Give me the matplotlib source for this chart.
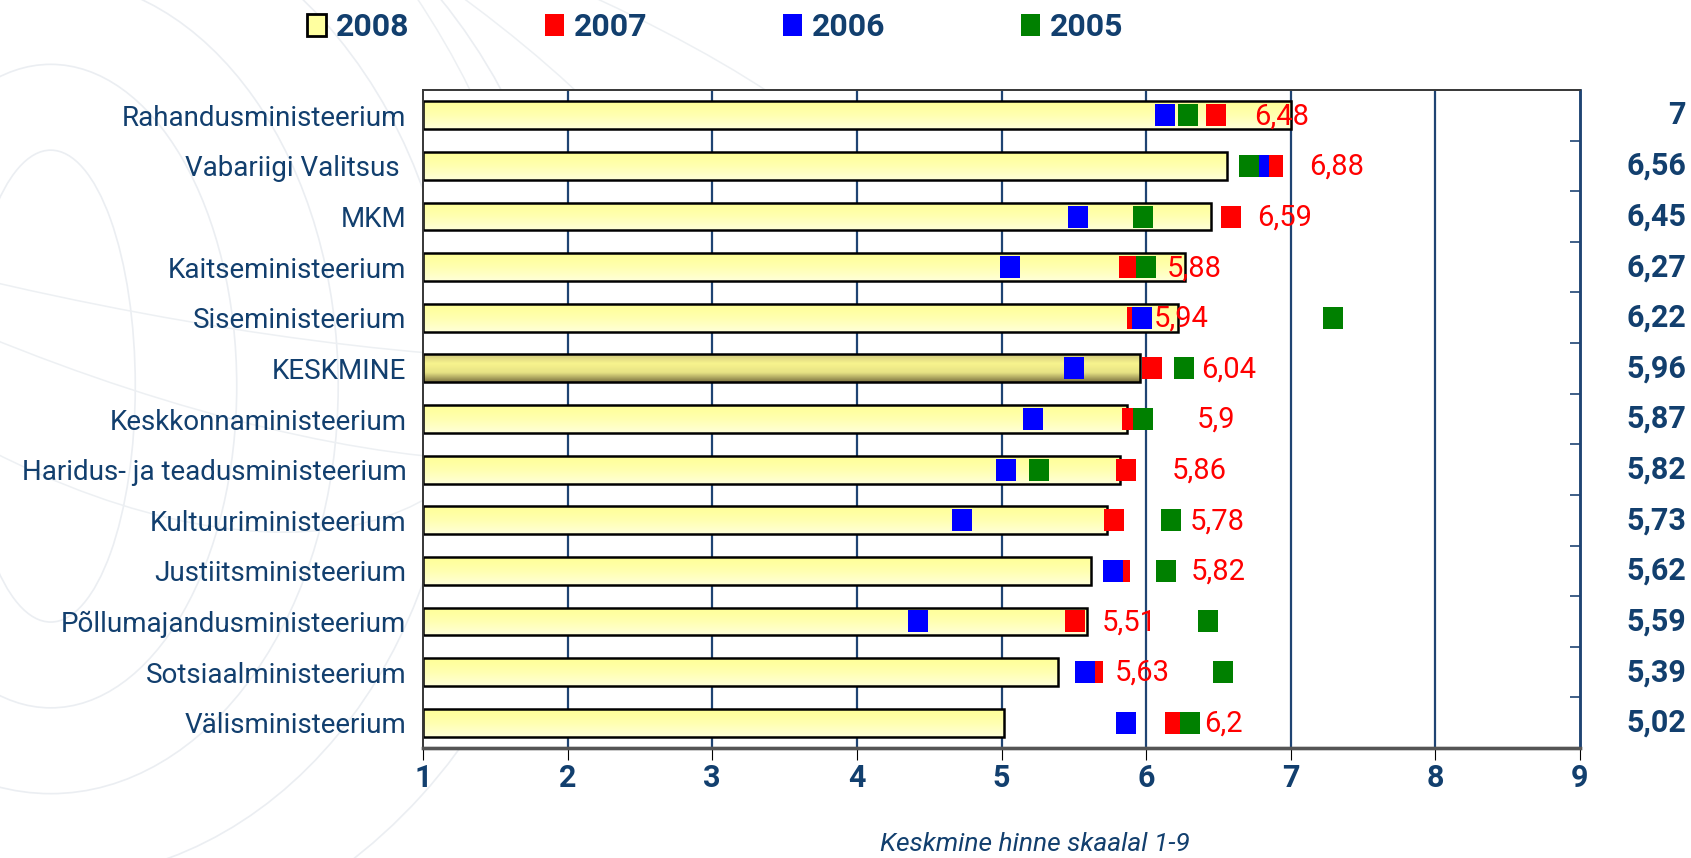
import numpy as np
import matplotlib
matplotlib.use("Agg")
import matplotlib.pyplot as plt
import matplotlib.transforms as mtransforms
from matplotlib.patches import Patch, Ellipse
from matplotlib.colors import LinearSegmentedColormap

plt.rcParams['font.family'] = ['Roboto', 'DejaVu Sans']

# ---- data ----
categories = ["Rahandusministeerium", "Vabariigi Valitsus ", "MKM",
              "Kaitseministeerium", "Siseministeerium", "KESKMINE",
              "Keskkonnaministeerium", "Haridus- ja teadusministeerium",
              "Kultuuriministeerium", "Justiitsministeerium",
              "Põllumajandusministeerium", "Sotsiaalministeerium",
              "Välisministeerium"]
v2008 = [7.00, 6.56, 6.45, 6.27, 6.22, 5.96, 5.87, 5.82, 5.73, 5.62, 5.59, 5.39, 5.02]
v2007 = [6.48, 6.88, 6.59, 5.88, 5.94, 6.04, 5.90, 5.86, 5.78, 5.82, 5.51, 5.63, 6.20]
v2006 = [6.13, 6.78, 5.53, 5.06, 5.97, 5.50, 5.22, 5.03, 4.73, 5.77, 4.42, 5.58, 5.86]
v2005 = [6.29, 6.71, 5.98, 6.00, 7.29, 6.26, 5.98, 5.26, 6.17, 6.14, 6.43, 6.53, 6.30]
years = ["2008", "2007", "2006", "2005"]
xticks = [1, 2, 3, 4, 5, 6, 7, 8, 9]
# where the red 2007 value labels sit, relative to the red mark
label_shift = [0.265, 0.25, 0.18, 0.26, 0.115, 0.34, 0.45, 0.32, 0.52, 0.49, 0.18, 0.15, 0.20]

navy = "#123F6E"
grid_c = "#1F4473"

def fmt(v):
    return ("%g" % v).replace(".", ",")

fig = plt.figure(figsize=(16.91, 8.58), dpi=100)
fig.patch.set_facecolor("white")

# faint globe lines in the background
for w, h in [(0.10, 0.55), (0.22, 0.75), (0.34, 0.95), (0.48, 1.15), (0.62, 1.35)]:
    fig.add_artist(Ellipse((0.03, 0.55), w, h, transform=fig.transFigure,
                           fill=False, ec="#EBEEF2", lw=1.2, zorder=0))
for a in [20, 40, 60]:
    fig.add_artist(Ellipse((0.0, 0.95), 0.5, 1.2, angle=a, transform=fig.transFigure,
                           fill=False, ec="#EDF0F3", lw=1.1, zorder=0))

ax = fig.add_axes([423/1691, 110/858, 1157/1691, 658/858])
ax.set_facecolor("white")
n = len(categories)
y = np.arange(n)
bh = 0.55

# 2008 bars with gradient fill
yellow = LinearSegmentedColormap.from_list("yel", ["#FFFF96", "#FFFFB0", "#FFFFD8"])
olive = LinearSegmentedColormap.from_list("oli", ["#CFC77C", "#F8F48E", "#E6E184", "#7E7442"])
bars = ax.barh(y, np.array(v2008) - 1, left=1, height=bh, facecolor="none",
               edgecolor="black", lw=1.8, zorder=3)
grad = np.linspace(0, 1, 128).reshape(-1, 1)
for i, b in enumerate(bars):
    cmap = olive if categories[i] == "KESKMINE" else yellow
    im = ax.imshow(grad, cmap=cmap, aspect="auto", interpolation="bicubic",
                   extent=(1, v2008[i], y[i] + bh/2, y[i] - bh/2), zorder=2)
    im.set_clip_path(b)

# markers for older years
rect = [(-0.875, -1), (0.875, -1), (0.875, 1), (-0.875, 1), (-0.875, -1)]
ax.plot(v2007, y, ls="none", marker=rect, ms=15.8, mew=0, color="#FF0000", zorder=4)
ax.plot(v2006, y, ls="none", marker=rect, ms=15.8, mew=0, color="#0000FF", zorder=5)
ax.plot(v2005, y, ls="none", marker=rect, ms=15.8, mew=0, color="#008000", zorder=6)

for i in range(n):
    ax.text(v2007[i] + label_shift[i], y[i] + 0.02, fmt(v2007[i]), color="#FF0000",
            fontsize=21, ha="left", va="center", zorder=7)

# right side 2008 values
trans = mtransforms.blended_transform_factory(ax.transAxes, ax.transData)
for i in range(n):
    ax.text(1.0916, y[i], fmt(v2008[i]), transform=trans, ha="right", va="center",
            fontsize=22, fontweight="bold", color=navy, clip_on=False)

ax.set_xlim(1, 9)
ax.set_ylim(n - 0.5, -0.5)
for gx in xticks[1:-1]:
    ax.axvline(gx, color=grid_c, lw=1.6, zorder=1)

ax.set_xticks(xticks)
ax.set_xticklabels([str(t) for t in xticks], fontsize=22, fontweight="bold", color=navy)
ax.tick_params(axis="x", direction="out", length=8.6, width=0.8, color="black", pad=2)
ax.set_yticks(y)
ax.set_yticklabels(categories, fontsize=20, color=navy)
ax.tick_params(axis="y", length=0, pad=12)

# right axis ticks at category borders
ax2 = ax.twinx()
ax2.set_ylim(n - 0.5, -0.5)
ax2.set_yticks(np.arange(n - 1) + 0.5)
ax2.set_yticklabels([])
ax2.tick_params(axis="y", direction="in", length=7.5, width=1.2, color=grid_c)

for a in (ax, ax2):
    a.spines["right"].set_color(grid_c)
    a.spines["right"].set_linewidth(1.8)
    a.spines["left"].set_color("#3A3A3A")
    a.spines["left"].set_linewidth(1.3)
    a.spines["top"].set_color("#3A3A3A")
    a.spines["top"].set_linewidth(1.3)
    a.spines["bottom"].set_color("#555555")
    a.spines["bottom"].set_linewidth(2.4)

ax.set_xlabel("Keskmine hinne skaalal 1-9", fontsize=19, style="italic", color=navy)
ax.xaxis.set_label_coords(0.529, -0.128)

handles = [Patch(facecolor="#FFFFA0", edgecolor="black", lw=2),
           Patch(facecolor="#FF0000", edgecolor="none"),
           Patch(facecolor="#0000FF", edgecolor="none"),
           Patch(facecolor="#008000", edgecolor="none")]
leg = fig.legend(handles, years, loc="center left", bbox_to_anchor=(307/1691, 1 - 27/858),
                 ncol=4, frameon=False, borderpad=0, borderaxespad=0, handlelength=0.6,
                 handleheight=0.7, handletextpad=0.3, columnspacing=4.25,
                 prop={"size": 23, "weight": "bold"})
for t in leg.get_texts():
    t.set_color(navy)

fig.savefig("out.png", dpi=100)
